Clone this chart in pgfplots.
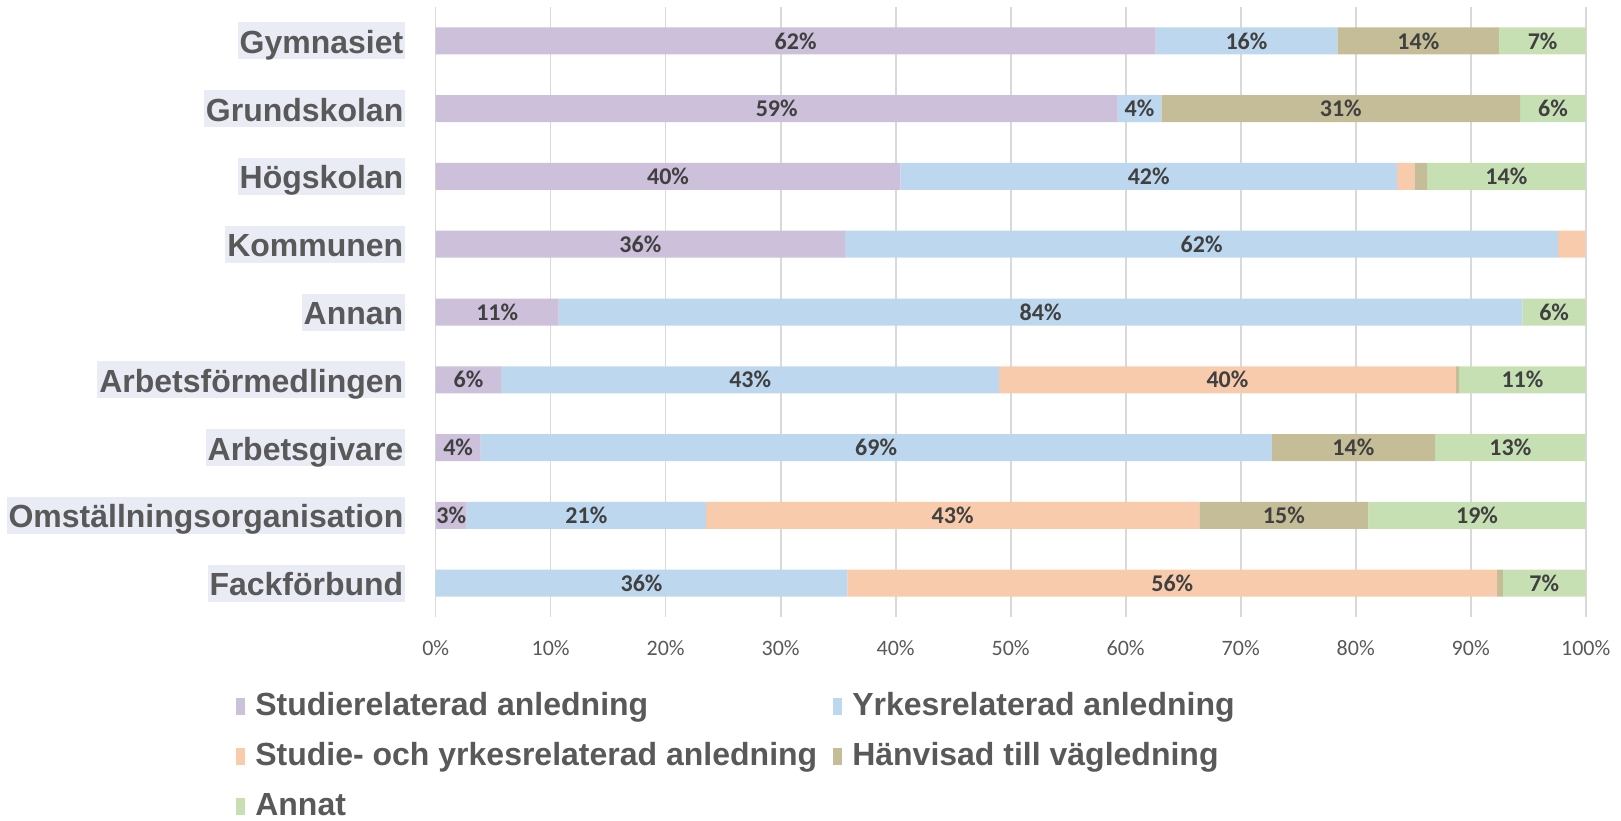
\documentclass[border=0pt]{standalone}
\usepackage{fontspec}
\setmainfont{Liberation Sans}
\newfontfamily\carlito{Carlito}
\usepackage{pgfplots}
\usepackage{pgfplotstable}
\pgfplotsset{compat=1.18}
\definecolor{cPurple}{HTML}{CCC0DA}
\definecolor{cBlue}{HTML}{BDD7EE}
\definecolor{cPeach}{HTML}{F8CBAD}
\definecolor{cTan}{HTML}{C4BD97}
\definecolor{cGreen}{HTML}{C6E0B4}
\definecolor{lblc}{HTML}{404040}
\definecolor{txtgray}{HTML}{595959}
\definecolor{labbg}{HTML}{E9EBF5}
\definecolor{gridc}{HTML}{D9D9D9}

\pgfplotstableread{
y v lab
0 62.6 62\%
1 59.3 59\%
2 40.4 40\%
3 35.6 36\%
4 10.7 11\%
5 5.7 6\%
6 3.9 4\%
7 2.7 3\%
8 0 {}
}\tStud
\pgfplotstableread{
y v lab
0 15.8 16\%
1 3.8 4\%
2 43.2 42\%
3 62.0 62\%
4 83.8 84\%
5 43.3 43\%
6 68.8 69\%
7 20.8 21\%
8 35.8 36\%
}\tYrk
\pgfplotstableread{
y v lab
0 0 {}
1 0 {}
2 1.5 {}
3 2.4 {}
4 0 {}
5 39.7 40\%
6 0 {}
7 42.9 43\%
8 56.5 56\%
}\tBoth
\pgfplotstableread{
y v lab
0 14.1 14\%
1 31.2 31\%
2 1.1 {}
3 0 {}
4 0 {}
5 0.3 {}
6 14.2 14\%
7 14.7 15\%
8 0.5 {}
}\tHanv
\pgfplotstableread{
y v lab
0 7.5 7\%
1 5.7 6\%
2 13.8 14\%
3 0 {}
4 5.5 6\%
5 11.0 11\%
6 13.1 13\%
7 18.9 19\%
8 7.2 7\%
}\tAnnat

\begin{document}
\begin{tikzpicture}
\path[use as bounding box] (-217.85pt,-101.5pt) rectangle (592.65pt,308.5pt);
\begin{axis}[
  at={(0pt,0pt)}, anchor=south west,
  scale only axis, width=575pt, height=305pt,
  xbar stacked, bar width=13.5pt,
  xmin=0, xmax=100, ymin=-0.5, ymax=8.5, y dir=reverse,
  clip=false,
  axis line style={draw=none},
  major tick length=0pt,
  xtick={0,10,...,100},
  xticklabels={0\%,10\%,20\%,30\%,40\%,50\%,60\%,70\%,80\%,90\%,100\%},
  xmajorgrids, grid style={draw=gridc, line width=0.8pt},
  xticklabel style={font=\carlito\fontsize{11}{13}\selectfont, text=txtgray, anchor=center, text height=7pt, text depth=0pt, inner sep=0pt, yshift=-15.5pt},
  ytick={0,...,8},
  yticklabels={Gymnasiet,Grundskolan,Högskolan,Kommunen,Annan,Arbetsförmedlingen,Arbetsgivare,Omställningsorganisation,Fackförbund},
  yticklabel style={font=\bfseries\fontsize{16}{19}\selectfont, text=txtgray, fill=labbg, inner xsep=1pt, inner ysep=0pt, text height=15.5pt, text depth=3pt, anchor=east, xshift=-15pt},
  point meta=explicit symbolic,
  nodes near coords,
  every node near coord/.append style={anchor=center, font=\carlito\bfseries\fontsize{12}{14}\selectfont, text=lblc},
  legend columns=2,
  legend cell align=left,
  legend image code/.code={\fill[#1] (0pt,-4.25pt) rectangle (4.5pt,4.25pt); \path (8.5pt,0pt);},
  legend style={at={(-0.1737,-0.1164)}, anchor=north west, draw=none, fill=none, inner sep=0pt,
    font=\bfseries\fontsize{16}{19}\selectfont, text=txtgray,
    nodes={inner sep=1pt, text height=12.5pt, text depth=3.5pt},
    row sep=7pt,
    /tikz/every even column/.append style={column sep=7pt}},
]
\addplot[fill=cPurple, draw=none] table[x=v, y=y, meta=lab] {\tStud};
\addlegendentry{Studierelaterad anledning}
\addplot[fill=cBlue, draw=none] table[x=v, y=y, meta=lab] {\tYrk};
\addlegendentry{Yrkesrelaterad anledning}
\addplot[fill=cPeach, draw=none] table[x=v, y=y, meta=lab] {\tBoth};
\addlegendentry{Studie- och yrkesrelaterad anledning}
\addplot[fill=cTan, draw=none] table[x=v, y=y, meta=lab] {\tHanv};
\addlegendentry{Hänvisad till vägledning}
\addplot[fill=cGreen, draw=none] table[x=v, y=y, meta=lab] {\tAnnat};
\addlegendentry{Annat}
\end{axis}
\end{tikzpicture}
\end{document}
